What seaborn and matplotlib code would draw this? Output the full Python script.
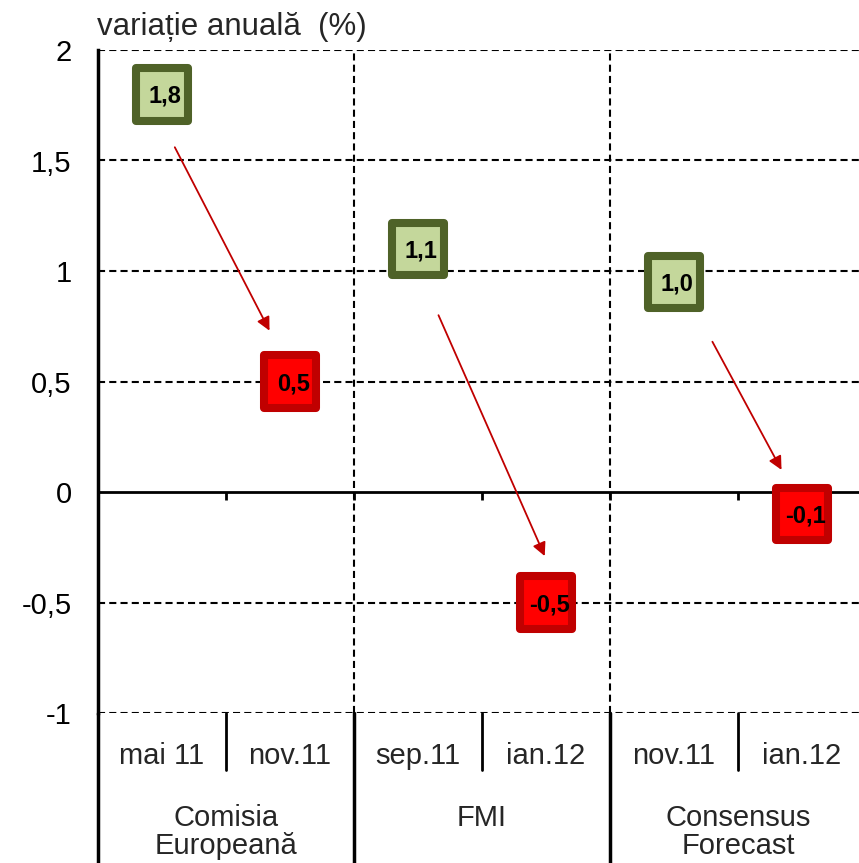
import matplotlib.pyplot as plt
import seaborn as sns
import numpy as np
from matplotlib.markers import MarkerStyle

sns.set_style("white")
plt.rcParams['font.family'] = ['Liberation Sans', 'DejaVu Sans']

# data
periods = ['mai 11', 'nov.11', 'sep.11', 'ian.12', 'nov.11', 'ian.12']
groups = ['Comisia\nEuropeană', 'FMI', 'Consensus\nForecast']
values = [1.8, 0.5, 1.1, -0.5, 0.95, -0.1]
value_labels = ['1,8', '0,5', '1,1', '-0,5', '1,0', '-0,1']
kind = ['old', 'new', 'old', 'new', 'old', 'new']
yticks = [-1, -0.5, 0, 0.5, 1, 1.5, 2]
ytick_labels = ['-1', '-0,5', '0', '0,5', '1', '1,5', '2']

fill = {'old': '#C4D79B', 'new': '#FF0000'}
edge = {'old': '#4F6228', 'new': '#C00000'}

fig = plt.figure(figsize=(8.59, 8.63), dpi=100)
ax = fig.add_axes([98 / 859, 1 - 713 / 863, 768 / 859, 663 / 863])

x = np.arange(len(values))

# grid
for yv in yticks:
    if yv == 0:
        ax.axhline(0, color='black', lw=2, zorder=1)
    else:
        ax.axhline(yv, color='black', lw=1.5, ls=(0, (3.4, 2)), zorder=1)
for xv in [1.5, 3.5]:
    ax.axvline(xv, color='black', lw=1.5, ls=(0, (3.4, 2)), zorder=1)

# small ticks on the zero line
ax.vlines([0.5, 1.5, 2.5, 3.5, 4.5, 5.5], 0, -0.035, color='black', lw=2, zorder=1)

# arrows from old to new forecast
offs = [((0.10, -0.24), (-0.16, 0.23)),
        ((0.16, -0.30), (-0.01, 0.21)),
        ((0.30, -0.27), (-0.16, 0.20))]
for i, (so, eo) in enumerate(offs):
    a, b = 2 * i, 2 * i + 1
    ax.annotate('', xy=(x[b] + eo[0], values[b] + eo[1]),
                xytext=(x[a] + so[0], values[a] + so[1]),
                arrowprops=dict(arrowstyle='-|>', color='#C00000', lw=1.3,
                                mutation_scale=20, shrinkA=0, shrinkB=0),
                zorder=2)

sns.scatterplot(x=x, y=values, hue=kind, palette=fill, ax=ax,
                marker=MarkerStyle('s', joinstyle='round'), s=38 ** 2,
                edgecolor=[edge[k] for k in kind], linewidth=5.8,
                legend=False, zorder=3)

for xi, yi, lab in zip(x, values, value_labels):
    ax.text(xi + 0.025, yi - 0.01, lab, ha='center', va='center',
            fontsize=17, fontweight='bold', color='black', zorder=4)

ax.set_xlim(-0.5, 5.5)
ax.set_ylim(-1, 2)
ax.set_yticks(yticks)
ax.set_yticklabels(ytick_labels, fontsize=21)
ax.tick_params(axis='y', length=7, width=1.5, direction='out', pad=12, colors='black')
ax.set_xticks(x)
ax.set_xticklabels(periods, fontsize=21)
ax.tick_params(axis='x', length=0, pad=21)
ax.set_xlabel('')

for side in ['top', 'right', 'bottom']:
    ax.spines[side].set_visible(False)
ax.spines['left'].set_linewidth(2.5)
ax.spines['left'].set_color('black')

# category separators below the plot
trans = ax.get_xaxis_transform()
for xv in [0.5, 2.5, 4.5]:
    ax.plot([xv, xv], [0, -0.086], transform=trans, color='black', lw=2, clip_on=False)
for xv in [-0.5, 1.5, 3.5]:
    ax.plot([xv, xv], [0, -0.3], transform=trans, color='black', lw=2.5, clip_on=False)

for gi, g in enumerate(groups):
    ax.text(2 * gi + 0.5, -0.137, g, transform=trans, ha='center', va='top',
            fontsize=21, linespacing=1.0)

fig.text(97 / 859, 1 - 35 / 863, 'variație anuală  (%)', fontsize=22.5,
         ha='left', va='baseline')

fig.savefig('out.png', dpi=100)
